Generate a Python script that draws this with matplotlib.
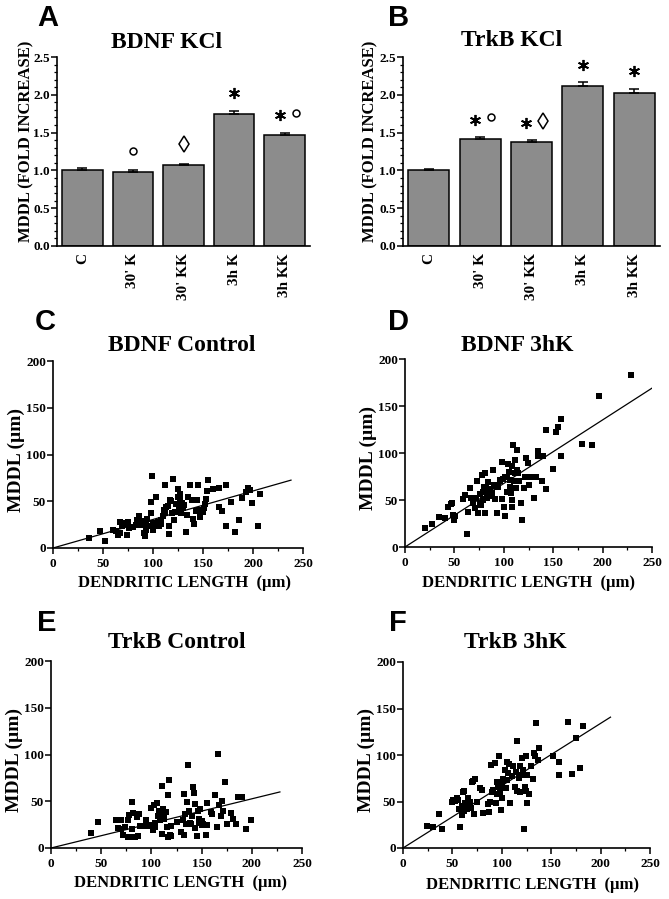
import matplotlib

matplotlib.use("Agg")
import matplotlib.pyplot as plt
import numpy as np
from matplotlib.ticker import MultipleLocator

plt.rcParams["font.family"] = ["Liberation Serif", "DejaVu Serif"]
plt.rcParams["font.weight"] = "bold"

# ---- bar panels (A, B) ----
bar_groups = ["C", "30' K", "30' KK", "3h K", "3h KK"]
bdnf_kcl = [1.00, 0.98, 1.07, 1.75, 1.47]
bdnf_kcl_err = [0.03, 0.02, 0.02, 0.04, 0.03]
bdnf_kcl_marks = ["", "o", "d", "*", "*o"]
trkb_kcl = [1.00, 1.41, 1.38, 2.12, 2.03]
trkb_kcl_err = [0.02, 0.03, 0.02, 0.05, 0.05]
trkb_kcl_marks = ["", "*o", "*d", "*", "*"]

# ---- scatter panels (C-F): dendritic length vs MDDL, um ----
bdnf_ctrl_len = [36, 47, 52, 60, 63, 65, 67, 67, 69, 71, 72, 74, 75, 76, 80, 83, 84, 86, 86, 88,
                 90, 91, 92, 93, 93, 94, 96, 98, 98, 99, 100, 100, 101, 103, 104, 105, 106, 108, 108, 110,
                 111, 112, 112, 113, 115, 116, 116, 117, 118, 119, 120, 121, 122, 123, 125, 125, 126, 127, 127, 128,
                 129, 130, 131, 133, 134, 135, 137, 139, 140, 141, 143, 144, 145, 146, 147, 148, 150, 151, 152, 153,
                 154, 155, 160, 166, 166, 169, 173, 173, 178, 182, 186, 189, 193, 195, 197, 199, 205, 207]
bdnf_ctrl_mddl = [11, 18, 8, 19, 18, 14, 16, 28, 24, 27, 26, 14, 28, 21, 22, 25, 30, 34, 26, 25,
                  29, 16, 13, 19, 25, 31, 24, 37, 49, 77, 27, 19, 24, 55, 26, 28, 23, 30, 26, 34,
                  41, 67, 37, 44, 45, 15, 23, 51, 50, 37, 74, 30, 38, 47, 55, 63, 43, 58, 52, 37,
                  48, 43, 46, 17, 35, 55, 67, 51, 31, 26, 40, 51, 67, 41, 33, 40, 38, 43, 47, 52,
                  61, 73, 63, 64, 44, 40, 67, 23, 49, 17, 30, 53, 60, 64, 62, 48, 24, 58]

bdnf_3hk_len = [20, 27, 34, 40, 44, 47, 48, 49, 50, 51, 59, 61, 63, 64, 66, 67, 69, 71, 72, 73,
                74, 76, 76, 77, 78, 79, 79, 80, 81, 81, 82, 83, 83, 84, 85, 86, 86, 88, 89, 90,
                91, 91, 93, 94, 96, 96, 98, 98, 99, 100, 101, 101, 103, 103, 104, 105, 106, 106, 107, 108,
                108, 108, 109, 110, 111, 111, 112, 113, 113, 114, 115, 117, 118, 120, 121, 122, 124, 125, 128, 131,
                133, 135, 135, 139, 140, 143, 143, 150, 153, 155, 158, 158, 179, 189, 196, 229]
bdnf_3hk_mddl = [20, 25, 32, 31, 43, 46, 47, 34, 29, 33, 51, 55, 14, 37, 63, 52, 47, 42, 52, 70,
                 36, 56, 47, 45, 77, 50, 59, 64, 36, 79, 64, 52, 58, 69, 54, 62, 55, 57, 82, 66,
                 51, 65, 36, 64, 70, 71, 90, 51, 72, 43, 33, 74, 59, 75, 88, 80, 64, 71, 57, 43,
                 86, 50, 109, 70, 93, 79, 63, 103, 82, 79, 70, 47, 29, 63, 75, 95, 89, 66, 75, 52,
                 75, 102, 97, 70, 97, 62, 125, 83, 122, 128, 97, 136, 110, 108, 161, 183]

trkb_ctrl_len = [40, 47, 65, 67, 70, 70, 72, 74, 77, 77, 78, 79, 81, 81, 82, 82, 84, 86, 87, 88,
                 89, 91, 92, 95, 97, 99, 100, 102, 103, 104, 104, 106, 107, 108, 109, 110, 111, 111, 112, 113,
                 113, 115, 115, 116, 117, 117, 118, 119, 120, 120, 125, 129, 131, 132, 132, 133, 134, 135, 136, 137,
                 138, 139, 140, 141, 142, 143, 143, 145, 146, 147, 147, 148, 150, 150, 151, 154, 155, 155, 159, 160,
                 163, 165, 166, 167, 169, 170, 171, 173, 175, 179, 181, 184, 186, 190, 194, 199]
trkb_ctrl_mddl = [16, 28, 30, 21, 20, 30, 14, 22, 30, 12, 35, 12, 20, 49, 37, 12, 12, 33, 13, 36,
                  23, 23, 23, 30, 24, 25, 43, 19, 46, 22, 27, 48, 34, 40, 30, 37, 66, 15, 42, 31,
                  35, 38, 38, 22, 57, 12, 73, 14, 13, 24, 28, 17, 30, 14, 58, 36, 26, 49, 89, 40,
                  27, 26, 34, 65, 59, 47, 21, 13, 40, 31, 27, 42, 25, 29, 26, 14, 48, 25, 39, 36,
                  57, 22, 101, 46, 34, 50, 40, 71, 26, 37, 31, 26, 55, 55, 20, 30]

trkb_3hk_len = [24, 30, 36, 39, 50, 51, 53, 55, 56, 57, 58, 60, 60, 61, 62, 62, 63, 64, 65, 66,
                67, 68, 69, 70, 71, 72, 73, 75, 78, 80, 81, 86, 87, 88, 89, 90, 91, 93, 94, 95,
                95, 96, 97, 98, 99, 100, 100, 101, 102, 103, 104, 105, 105, 106, 107, 108, 110, 111, 113, 114,
                115, 115, 117, 118, 118, 120, 120, 121, 122, 123, 124, 124, 125, 126, 128, 130, 132, 133, 134, 135,
                137, 138, 152, 158, 158, 167, 171, 175, 179, 182]
trkb_3hk_mddl = [24, 23, 37, 20, 50, 52, 51, 54, 52, 42, 23, 35, 45, 60, 40, 61, 48, 45, 42, 54,
                 47, 50, 43, 71, 72, 37, 74, 50, 65, 62, 38, 47, 39, 50, 89, 60, 62, 91, 48, 71,
                 58, 66, 99, 59, 41, 54, 70, 74, 65, 84, 65, 93, 73, 81, 90, 48, 77, 88, 66, 82,
                 61, 115, 75, 88, 60, 97, 78, 84, 20, 66, 99, 61, 48, 79, 58, 88, 74, 102, 99, 134,
                 95, 108, 99, 93, 79, 136, 80, 118, 86, 131]

# regression lines drawn in the figure: slope through origin, x end of line
fit_slope = {"C": 0.305, "D": 0.676, "E": 0.263, "F": 0.67}
fit_xmax = {"C": 238, "D": 252, "E": 228, "F": 210}

W, H = 669, 899
fig = plt.figure(figsize=(W / 100, H / 100), dpi=100)


def box(x0, y0, x1, y1):
    # pixel box (top-left origin) -> figure fraction rect
    return [x0 / W, 1 - y1 / H, (x1 - x0) / W, (y1 - y0) / H]


def style_axes(ax):
    for s in ("top", "right"):
        ax.spines[s].set_visible(False)
    for s in ("left", "bottom"):
        ax.spines[s].set_linewidth(1.2)
    ax.tick_params(direction="out", width=1.1, length=4, labelsize=9.5, pad=1)
    ax.tick_params(which="minor", direction="out", width=0.9, length=2)
    for lab in ax.get_xticklabels() + ax.get_yticklabels():
        lab.set_fontweight("bold")


def panel_text(title, letter, title_xy, letter_xy):
    fig.text(title_xy[0] / W, 1 - title_xy[1] / H, title, ha="center", va="center",
             fontsize=17, fontweight="bold")
    fig.text(letter_xy[0] / W, 1 - letter_xy[1] / H, letter, ha="center", va="center",
             fontsize=21, fontweight="bold", family="Liberation Sans")


def bar_panel(rect, vals, errs, marks, title, letter, title_xy, letter_xy, ylab_x):
    ax = fig.add_axes(box(*rect))
    x = np.arange(len(vals))
    ax.bar(x, vals, width=0.8, color="#8c8c8c", edgecolor="black", linewidth=1.1, zorder=2)
    ax.errorbar(x, vals, yerr=[np.zeros(len(vals)), errs], fmt="none", ecolor="black",
                elinewidth=1.1, capsize=3.5, capthick=1.1, zorder=3)
    for xi, v, e, m in zip(x, vals, errs, marks):
        y = v + e + 0.23
        if len(m) == 2:
            xs = [xi - 0.1, xi + 0.22]
        else:
            xs = [xi]
        for xm, sym in zip(xs, m):
            if sym == "*":
                ax.plot(xm, y, marker=(6, 2, 0), ms=8, mew=1.3, color="black")
            elif sym == "o":
                ax.plot(xm, y + 0.03, marker="o", ms=5, mfc="white", mec="black", mew=1.1)
            elif sym == "d":
                ax.plot(xm, y + 0.03, marker="d", ms=8.5, mfc="white", mec="black", mew=1.1)
    ax.set_xlim(-0.5, len(vals) - 0.5)
    ax.set_ylim(0, 2.5)
    ax.yaxis.set_major_locator(MultipleLocator(0.5))
    ax.yaxis.set_minor_locator(MultipleLocator(0.1))
    ax.yaxis.set_major_formatter(plt.FormatStrFormatter("%.1f"))
    ax.set_xticks(x)
    style_axes(ax)
    ax.set_xticklabels(bar_groups, rotation=90, fontsize=11, fontweight="bold")
    ax.tick_params(axis="x", length=0, pad=5)
    fig.text(ylab_x / W, 1 - ((rect[1] + rect[3]) / 2 - 10) / H, "MDDL (FOLD INCREASE)",
             rotation=90, ha="center", va="center", fontsize=12, fontweight="bold")
    panel_text(title, letter, title_xy, letter_xy)


def scatter_panel(rect, xs, ys, key, title, letter, title_xy, letter_xy, ylab_x, xlab_xy):
    ax = fig.add_axes(box(*rect))
    ax.scatter(xs, ys, marker="s", s=15, color="black", linewidths=0, zorder=3)
    xl = np.array([0, fit_xmax[key]])
    ax.plot(xl, fit_slope[key] * xl, color="black", lw=0.9, zorder=2)
    ax.set_xlim(0, 250)
    ax.set_ylim(0, 200)
    ax.xaxis.set_major_locator(MultipleLocator(50))
    ax.xaxis.set_minor_locator(MultipleLocator(25))
    ax.yaxis.set_major_locator(MultipleLocator(50))
    style_axes(ax)
    ax.tick_params(axis="x", pad=3)
    fig.text(ylab_x / W, 1 - ((rect[1] + rect[3]) / 2 + 5) / H, "MDDL (\u00b5m)",
             rotation=90, ha="center", va="center", fontsize=14, fontweight="bold")
    fig.text(xlab_xy[0] / W, 1 - xlab_xy[1] / H, "DENDRITIC LENGTH  (\u00b5m)",
             ha="center", va="center", fontsize=12, fontweight="bold")
    panel_text(title, letter, title_xy, letter_xy)


bar_panel((57, 57, 310, 246), bdnf_kcl, bdnf_kcl_err, bdnf_kcl_marks, "BDNF KCl", "A",
          (167, 43), (48, 18), 26)
bar_panel((403, 57, 660, 246), trkb_kcl, trkb_kcl_err, trkb_kcl_marks, "TrkB KCl", "B",
          (512, 40), (399, 18), 370)

scatter_panel((53, 361, 303, 548), bdnf_ctrl_len, bdnf_ctrl_mddl, "C", "BDNF Control", "C",
              (182, 345), (45, 322), 16, (185, 583))
scatter_panel((405, 359, 652, 547), bdnf_3hk_len, bdnf_3hk_mddl, "D", "BDNF 3hK", "D",
              (517, 345), (399, 322), 368, (528, 583))
scatter_panel((51, 661, 302, 848), trkb_ctrl_len, trkb_ctrl_mddl, "E", "TrkB Control", "E",
              (177, 643), (47, 623), 14, (180, 883))
scatter_panel((403, 662, 650, 848), trkb_3hk_len, trkb_3hk_mddl, "F", "TrkB 3hK", "F",
              (515, 642), (398, 623), 366, (532, 885))

fig.savefig("out.png", dpi=100)
